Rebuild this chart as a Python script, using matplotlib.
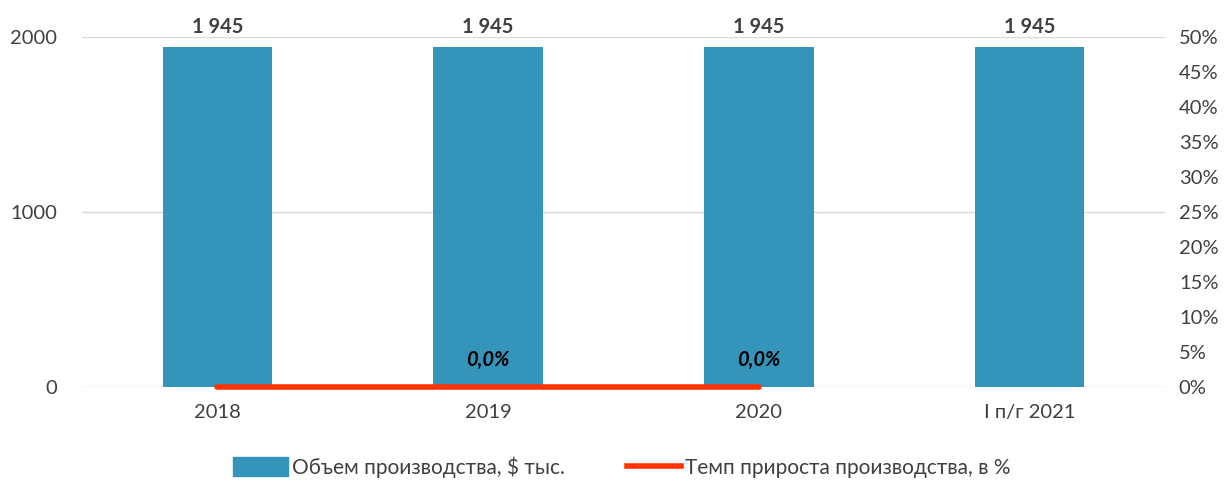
import matplotlib.pyplot as plt
import matplotlib.ticker as mticker
from matplotlib.patches import Patch
from matplotlib.lines import Line2D

plt.rcParams['font.family'] = ['Lato', 'DejaVu Sans']

# Data
categories = ['2018', '2019', '2020', 'I п/г 2021']
volume = [1945, 1945, 1945, 1945]
growth = [0.0, 0.0, 0.0]
volume_labels = ['1 945', '1 945', '1 945', '1 945']
growth_labels = ['', '0,0%', '0,0%']

bar_color = '#3494BA'
line_color = '#FF3300'
text_color = '#404040'
fs = 14.5

fig = plt.figure(figsize=(12.32, 4.82), dpi=100)
ax = fig.add_axes([0.0666, 0.197, 0.879, 0.726])
ax2 = ax.twinx()

x = list(range(len(categories)))
ax.bar(x, volume, width=0.405, color=bar_color, zorder=2)
for xi, v, lab in zip(x, volume, volume_labels):
    ax.text(xi, v + 55, lab, ha='center', va='bottom', fontsize=fs,
            fontweight='bold', color=text_color)

ax.set_xlim(-0.5, 3.5)
ax.set_ylim(0, 2000)
ax.set_yticks([0, 1000, 2000])
ax.grid(axis='y', color='#D9D9D9', linewidth=1, zorder=0)
ax.set_axisbelow(True)
ax.set_xticks(x)
ax.set_xticklabels(categories)
for s in ax.spines.values():
    s.set_visible(False)
ax.tick_params(axis='both', length=0, labelsize=fs, colors=text_color)
ax.tick_params(axis='x', pad=12)
ax.tick_params(axis='y', pad=18)

# Growth rate line on secondary axis
ax2.plot(x[:len(growth)], growth, color=line_color, linewidth=4, zorder=3,
         solid_capstyle='round', clip_on=False)
for xi, g, lab in zip(x, growth, growth_labels):
    if lab:
        ax2.text(xi, g + 2.5, lab, ha='center', va='bottom', fontsize=fs,
                 fontweight='bold', fontstyle='italic', color='black')
ax2.set_ylim(0, 50)
ax2.set_yticks(range(0, 51, 5))
ax2.yaxis.set_major_formatter(mticker.FuncFormatter(lambda v, p: f'{int(v)}%'))
for s in ax2.spines.values():
    s.set_visible(False)
ax2.tick_params(axis='y', length=0, labelsize=fs, colors=text_color, pad=10)

handles = [Patch(color=bar_color), Line2D([0], [0], color=line_color, linewidth=4)]
fig.legend(handles, ['Объем производства, $ тыс.', 'Темп прироста производства, в %'],
           loc='center', bbox_to_anchor=(0.505, 0.031), ncol=2, frameon=False,
           fontsize=15, labelcolor=text_color, handlelength=2.6, handleheight=1.0,
           handletextpad=0.2, columnspacing=3.0)

fig.savefig('out.png', dpi=100)
